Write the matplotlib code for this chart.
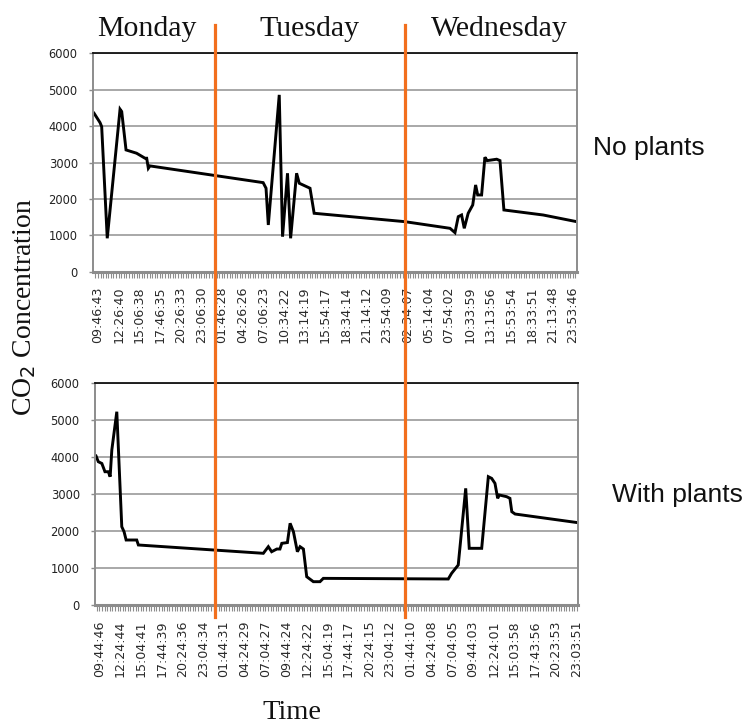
import matplotlib
matplotlib.use("Agg")
import matplotlib.pyplot as plt
from matplotlib.lines import Line2D
from matplotlib.ticker import MultipleLocator

# ---------------- data ----------------
days = ["Monday", "Tuesday", "Wednesday"]

top_ticks = ["09:46:43", "12:26:40", "15:06:38", "17:46:35", "20:26:33", "23:06:30",
             "01:46:28", "04:26:26", "07:06:23", "10:34:22", "13:14:19", "15:54:17",
             "18:34:14", "21:14:12", "23:54:09", "02:34:07", "05:14:04", "07:54:02",
             "10:33:59", "13:13:56", "15:53:54", "18:33:51", "21:13:48", "23:53:46"]
bottom_ticks = ["09:44:46", "12:24:44", "15:04:41", "17:44:39", "20:24:36", "23:04:34",
                "01:44:31", "04:24:29", "07:04:27", "09:44:24", "12:24:22", "15:04:19",
                "17:44:17", "20:24:15", "23:04:12", "01:44:10", "04:24:08", "07:04:05",
                "09:44:03", "12:24:01", "15:03:58", "17:43:56", "20:23:53", "23:03:51"]

# position along the time axis (in units of tick-label index) and CO2 value
no_plants_t = [-0.19, 0.10, 0.18, 0.45, 1.07, 1.15, 1.36, 1.87, 2.28, 2.36, 2.44, 2.52,
               8.00, 8.14, 8.25, 8.78, 8.94, 9.18, 9.33, 9.62, 9.75, 10.27, 10.47,
               14.86, 17.05, 17.29, 17.45, 17.61, 17.74, 17.93, 18.15, 18.29, 18.39,
               18.58, 18.74, 18.85, 19.31, 19.47, 19.66, 21.56, 23.18]
no_plants_co2 = [4354, 4096, 3986, 918, 4464, 4400, 3345, 3255, 3117, 3117, 2842, 2906,
                 2447, 2293, 1284, 4858, 962, 2705, 918, 2705, 2430, 2293, 1605,
                 1375, 1192, 1073, 1512, 1558, 1192, 1605, 1833, 2383, 2108,
                 2108, 3145, 3052, 3090, 3052, 1696, 1558, 1375]

plants_t = [-0.16, -0.05, 0.12, 0.27, 0.43, 0.52, 0.60, 0.84, 1.08, 1.19, 1.29, 1.80,
            1.88, 7.90, 8.14, 8.30, 8.55, 8.70, 8.79, 9.06, 9.19, 9.35, 9.54, 9.67,
            9.83, 9.99, 10.31, 10.63, 10.79, 16.81, 16.97, 17.29, 17.65, 17.82, 18.42,
            18.74, 18.90, 19.06, 19.19, 19.27, 19.62, 19.78, 19.87, 20.03, 23.07]
plants_co2 = [4032, 3878, 3830, 3607, 3607, 3472, 4194, 5231, 2119, 1984, 1759, 1759,
              1624, 1399, 1578, 1442, 1515, 1515, 1669, 1690, 2211, 1984, 1442, 1578,
              1515, 766, 631, 631, 721, 704, 857, 1082, 3157, 1534, 1534,
              3472, 3427, 3292, 2887, 2977, 2932, 2887, 2525, 2462, 2227]

y_ticks = [0, 1000, 2000, 3000, 4000, 5000, 6000]

# ---------------- figure ----------------
W, H = 748, 726
fig = plt.figure(figsize=(W / 100, H / 100), dpi=100)
fig.patch.set_facecolor("white")

GRID = "#a8a8a8"
AXC = "#8c8c8c"


def px_rect(x0, y_top, x1, y_bot):
    return [x0 / W, 1 - y_bot / H, (x1 - x0) / W, (y_bot - y_top) / H]


def style_axes(ax, xlim, ticks):
    ax.set_xlim(*xlim)
    ax.set_ylim(0, 6000)
    ax.set_yticks(y_ticks)
    ax.set_yticklabels([str(v) for v in y_ticks], fontsize=8.3, color="#222222",
                       family="DejaVu Sans")
    ax.yaxis.grid(True, color=GRID, linewidth=1.4)
    ax.set_axisbelow(True)
    ax.tick_params(axis="y", length=3, width=1, color=AXC, pad=8)
    ax.set_xticks(range(len(ticks)))
    ax.set_xticklabels(ticks, rotation=90, fontsize=9.1, color="#2a2a2a",
                       family="DejaVu Sans", va="top")
    ax.xaxis.set_minor_locator(MultipleLocator(1 / 8))
    ax.tick_params(axis="x", which="both", length=4, width=0.8, color=AXC, pad=7)
    for s in ["left", "right", "bottom"]:
        ax.spines[s].set_color(AXC)
        ax.spines[s].set_linewidth(1.4)
    ax.spines["bottom"].set_linewidth(2.2)
    ax.spines["top"].set_color("#111111")
    ax.spines["top"].set_linewidth(1.3)


ax1 = fig.add_axes(px_rect(93, 53.3, 577, 271.7))
ax1.plot(no_plants_t, no_plants_co2, color="black", linewidth=2.1,
         solid_joinstyle="miter")
style_axes(ax1, (-0.24, 23.2), top_ticks)

ax2 = fig.add_axes(px_rect(95, 383.3, 578, 605))
ax2.plot(plants_t, plants_co2, color="black", linewidth=2.1,
         solid_joinstyle="miter")
style_axes(ax2, (-0.21, 23.06), bottom_ticks)

# day separators
ORANGE = "#f26f1d"
for xp in (215, 405):
    fig.add_artist(Line2D([xp / W, xp / W], [1 - 25 / H, 1 - 617 / H],
                          color=ORANGE, linewidth=2.3, transform=fig.transFigure))

# day names
serif = ["Liberation Serif", "DejaVu Serif"]
for name, xp in zip(days, (97, 259, 431)):
    fig.text(xp / W, 1 - 36 / H, name, fontsize=21.5, family=serif,
             ha="left", va="baseline", color="#111111")

sans = ["Liberation Sans", "DejaVu Sans"]
fig.text(593 / W, 1 - 155 / H, "No plants", fontsize=19, family=sans,
         ha="left", va="baseline", color="#111111")
fig.text(612 / W, 1 - 501.7 / H, "With plants", fontsize=19, family=sans,
         ha="left", va="baseline", color="#111111")

fig.text(25 / W, 1 - 307 / H, r"CO$_2$ Concentration", fontsize=20, family=serif,
         rotation=90, ha="center", va="center", color="#111111")
fig.text(292 / W, 1 - 719 / H, "Time", fontsize=20.5, family=serif,
         ha="center", va="baseline", color="#111111")

fig.savefig("out.png", dpi=100, facecolor="white")
